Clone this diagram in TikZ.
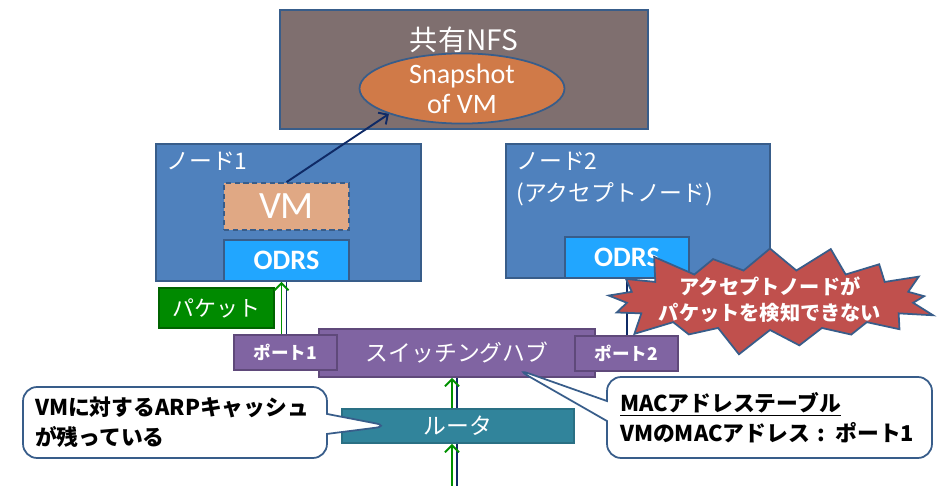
\documentclass[tikz,border=0pt]{standalone}
\usepackage{fontspec}
\setmainfont{Carlito}
\newfontfamily\jp{Noto Sans CJK JP}
\usetikzlibrary{shapes.geometric,shapes.symbols,shapes.callouts,arrows.meta}
\definecolor{edgeblue}{HTML}{385D8A}
\definecolor{nfsgray}{HTML}{7F6F6F}
\definecolor{snaporange}{HTML}{D07A48}
\definecolor{nodeblue}{HTML}{4F81BD}
\definecolor{vmtan}{HTML}{E0A884}
\definecolor{odrsblue}{HTML}{21A6FF}
\definecolor{pktgreen}{HTML}{008A00}
\definecolor{pktedge}{HTML}{006400}
\definecolor{hubpurple}{HTML}{8064A2}
\definecolor{hubedge}{HTML}{5F497A}
\definecolor{routerteal}{HTML}{31849B}
\definecolor{burstred}{HTML}{C0504D}
\definecolor{navy}{HTML}{0F2A66}
\definecolor{arrowgreen}{HTML}{009000}

\begin{document}
\begin{tikzpicture}[x=0.02cm,y=-0.02cm,
	box/.style={draw=edgeblue,line width=1pt,inner sep=0pt},
	whitetxt/.style={text=white,inner sep=0pt},
	portbox/.style={box,fill=hubpurple,draw=hubedge,minimum width=2.06cm,minimum height=0.7cm,text=white,font=\jp\bfseries\fontsize{10}{12}\selectfont},
	odrsbox/.style={box,fill=odrsblue,minimum width=2.5cm,minimum height=0.82cm,text=white,font=\bfseries\fontsize{16}{18}\selectfont},
	navyline/.style={navy,line width=1.1pt},
	pktline/.style={arrowgreen,line width=1.1pt,-{Straight Barb[length=4pt,width=8pt]}},
	note/.style={rectangle callout,draw=edgeblue,line width=1pt,fill=white,rounded corners=8pt,callout pointer width=0.4cm,align=left,font=\jp\bfseries\fontsize{12.4}{17}\selectfont}]
	\useasboundingbox (0,0) rectangle (937,486);
	
	%NFS
	\node[box,fill=nfsgray,minimum width=7.36cm,minimum height=2.38cm] (nfs) at (464,69.5) {};
	\node[whitetxt,font=\jp\fontsize{16}{18}\selectfont] (nfstitle) at (464,40) {共有NFS};
	\node[box,ellipse,fill=snaporange,minimum width=4.1cm,minimum height=1.34cm,text=white,align=center,font=\fontsize{16}{17}\selectfont] (snap) at (462,88.5) {Snapshot\\of VM};
	
	%Node 1
	\node[box,fill=nodeblue,minimum width=5.3cm,minimum height=2.74cm] (node1) at (288.5,212.5) {};
	\node[whitetxt,anchor=north west,font=\jp\fontsize{13}{18}\selectfont] (node1lbl) at (166,152) {ノード1};
	\node[box,dashed,dash pattern=on 3pt off 2pt,fill=vmtan,minimum width=2.5cm,minimum height=0.94cm,text=white,font=\fontsize{22}{24}\selectfont] (vm) at (286.5,206.5) {VM};
	\node[odrsbox] (odrs1) at (286.5,260.5) {ODRS};
	
	%Node 2
	\node[box,fill=nodeblue,minimum width=5.28cm,minimum height=2.68cm] (node2) at (638,211) {};
	\node[whitetxt,anchor=north west,align=left,font=\jp\fontsize{13}{18}\selectfont] (node2lbl) at (516,152) {ノード2\\(アクセプトノード)};
	\node[odrsbox,minimum width=2.48cm] (odrs2) at (627,257.5) {ODRS};
	
	%Packet
	\node[box,fill=pktgreen,draw=pktedge,minimum width=2.3cm,minimum height=0.8cm,text=white,font=\jp\fontsize{12.5}{14}\selectfont] (pkt) at (216.5,308) {パケット};
	
	%Hub
	\node[box,fill=hubpurple,draw=hubedge,minimum width=5.52cm,minimum height=0.96cm,text=white,font=\jp\fontsize{13}{15}\selectfont] (hub) at (457,353) {スイッチングハブ};
	\node[portbox] (port1) at (285.5,352.5) {ポート1};
	\node[portbox] (port2) at (626.5,353.5) {ポート2};
	
	%Router
	\node[box,fill=routerteal,draw=routerteal!85!black,minimum width=4.64cm,minimum height=0.68cm,text=white,font=\jp\fontsize{13}{15}\selectfont] (router) at (458,426) {ルータ};
	\coordinate (floor) at (457,486);
	
	%Lines
	\draw[navyline,-{Straight Barb[length=4pt,width=8pt]}] (vm.north) -- (snap.south west);
	\draw[navyline] (odrs1.south) -- (odrs1.south |- port1.north);
	\draw[pktline] ([xshift=-0.1cm]odrs1.south |- port1.north) -- ([xshift=-0.1cm]odrs1.south);
	\draw[navyline] (odrs2.south) -- (odrs2.south |- port2.north);
	\draw[navyline] (hub.south) -- (hub.south |- router.north);
	\draw[navyline] (hub.south |- router.south) -- (floor);
	\draw[pktline] ([xshift=-0.1cm]hub.south |- router.north) -- ([xshift=-0.1cm]hub.south);
	\draw[pktline] ([xshift=-0.1cm]floor) -- ([xshift=-0.1cm]floor |- router.south);
	
	%Starburst
	\node[starburst,starburst points=17,starburst point height=0.6cm,draw=edgeblue,line width=1pt,fill=burstred,minimum width=6.95cm,minimum height=2.4cm,inner sep=0pt] (burst) at (770,300) {};
	\node[whitetxt,align=center,font=\jp\bfseries\fontsize{11.5}{15}\selectfont] (bursttxt) at (burst.center) {アクセプトノードが\\パケットを検知できない};
	
	%Callouts
	\node[note,callout absolute pointer={([xshift=0.96cm]router.west)},text width=5.6cm,inner xsep=0.24cm,minimum height=1.42cm] (arp) at (175,422.5) {VMに対するARPキャッシュ\\が残っている};
	\node[note,callout absolute pointer={([xshift=-1.6cm,yshift=0.18cm]hub.south east)},text width=5.98cm,inner xsep=0.26cm,minimum height=1.62cm] (mac) at (769.5,417.5) {\underline{MACアドレステーブル}\\VMのMACアドレス : ポート1};
\end{tikzpicture}
\end{document}
